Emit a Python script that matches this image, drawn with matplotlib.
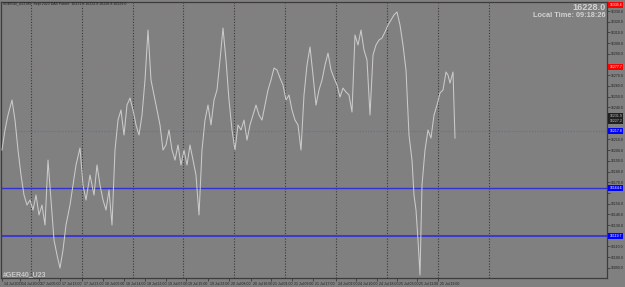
import matplotlib
matplotlib.use("Agg")
import matplotlib.pyplot as plt
from matplotlib.transforms import ScaledTranslation, blended_transform_factory

plt.rcParams["font.family"] = ["Liberation Sans", "DejaVu Sans"]

# ---- data -------------------------------------------------------------
bar_index = [0, 3, 6, 10, 13, 16, 19, 22, 25, 28, 31, 34, 37, 40, 43, 46, 49, 52, 55, 58, 61, 64,
             68, 71, 74, 78, 81, 84, 88, 92, 95, 98, 101, 104, 107, 110,
             113, 116, 119, 122, 125, 128, 131, 134, 137, 140, 143, 146, 149, 152, 155, 158, 161,
             164, 167, 170, 173, 176, 179, 182, 185, 188, 191, 194, 197, 200, 203, 206, 209, 212,
             215, 218, 221, 224, 227, 230, 233, 236, 239, 242, 245, 248, 251, 254, 257, 260, 263,
             266, 269, 272, 275, 278, 281, 284, 287, 290, 293, 296, 299, 302, 305, 308, 311, 314,
             317, 320, 323, 326, 329, 332, 335, 338, 341, 344, 347, 350, 353, 356, 359, 362, 365,
             368, 371, 374, 377, 380, 383, 386, 389, 392, 395, 398, 401, 404, 407,
             410, 412, 414, 416, 418, 420, 423, 426, 429, 432, 435, 438, 441, 444, 446, 448, 451, 453]

price = [16200.1, 16218.8, 16232.8, 16246.8, 16228.1, 16200.1, 16176.7, 16158.0, 16148.7, 16153.4,
         16144.0, 16158.0, 16139.4, 16148.7, 16130.0, 16190.7, 16153.4, 16116.0, 16102.0, 16089.8,
         16106.7, 16130.0,
         16148.7, 16167.4, 16186.1, 16202.0, 16167.4, 16153.4, 16176.7, 16158.0, 16186.1, 16167.4,
         16153.4, 16144.0, 16162.7, 16130.0,
         16200.1, 16228.1, 16237.5, 16214.1, 16242.1, 16248.7, 16237.5, 16223.5, 16214.1, 16232.8,
         16265.5, 16312.2, 16265.5, 16251.5, 16237.5, 16223.5, 16200.1, 16204.8, 16218.8, 16200.1,
         16190.7, 16204.8, 16186.1, 16200.1, 16186.1, 16204.8, 16190.7, 16176.7, 16139.4, 16200.1,
         16228.1, 16242.1, 16223.5, 16246.8, 16256.2, 16284.2, 16314.1, 16284.2, 16246.8, 16218.8,
         16200.1, 16223.5, 16218.8, 16228.1, 16209.4, 16223.5, 16232.8, 16242.1, 16232.8, 16228.1,
         16242.1, 16256.2, 16265.5, 16276.7, 16274.9, 16267.4, 16260.8, 16246.8, 16251.5, 16237.5,
         16228.1, 16223.5, 16200.1, 16251.5, 16279.5, 16296.4, 16270.2, 16242.1, 16256.2, 16265.5,
         16279.5, 16290.7, 16274.9, 16267.4, 16260.8, 16249.6, 16258.0, 16254.3, 16251.5, 16235.6,
         16307.6, 16298.2, 16312.2, 16293.5, 16284.2, 16232.8, 16288.9, 16298.2, 16302.9, 16304.8,
         16310.4, 16316.9, 16321.6, 16326.3, 16329.1, 16316.9, 16298.2, 16274.9, 16214.1,
         16190.7, 16158.0, 16144.0, 16116.0, 16083.3, 16167.4, 16200.1, 16218.8, 16211.3, 16232.8,
         16242.1, 16253.4, 16256.2, 16273.0, 16270.2, 16262.7, 16273.0, 16211.3]

time_tick_pos = [0, 18, 37, 58, 80, 101, 122, 143, 164, 184, 206, 227, 249, 269, 290, 311, 334,
                 354, 375, 395, 415, 436]
time_tick_labels = ["14 Jul 2023", "14 Jul 20:00", "17 Jul 05:00", "17 Jul 13:00", "17 Jul 21:00",
                    "18 Jul 06:00", "18 Jul 14:00", "18 Jul 22:00", "19 Jul 07:00", "19 Jul 15:00",
                    "19 Jul 23:00", "20 Jul 08:00", "20 Jul 16:00", "21 Jul 01:00", "21 Jul 09:00",
                    "21 Jul 17:00", "24 Jul 02:00", "24 Jul 10:00", "24 Jul 18:00", "25 Jul 03:00",
                    "25 Jul 11:00", "25 Jul 19:00"]
grid_pos = [29, 80, 131, 181, 232, 283, 334, 385, 436, 487]

price_ticks = [16330, 16320, 16310, 16300, 16290, 16280, 16270, 16260, 16250, 16240, 16230,
               16220, 16210, 16200, 16190, 16180, 16170, 16160, 16150, 16140, 16130, 16120,
               16110, 16100, 16090]

ask_level = 16335.6
red_level = 16277.7
bid_levels = [16231.9, 16227.2]
blue_dotted_level = 16217.8
blue_solid_levels = [16164.6, 16119.7]

symbol = "#GER40_U23"
header = "#GER40_U23,M5  Sept 2023 DAX Future  16231.8 16232.8 16226.8 16229.0"
big_price = "16228.0"
local_time = "Local Time: 09:18:26"

# ---- style ------------------------------------------------------------
BG = "#808080"
LINE = "#cbcbcb"
FRAME = "#3c3c3c"
SMALL = 2.5

fig = plt.figure(figsize=(6.25, 2.87), dpi=100, facecolor=BG)
ax = fig.add_axes([1.5 / 625, 9 / 287, 605.5 / 625, 276.5 / 287])
ax.set_facecolor(BG)
ax.set_xlim(-0.5, 605)
ax.set_ylim(16080.5, 16338.9)

for s in ax.spines.values():
    s.set_color(FRAME)
    s.set_linewidth(0.9)

# vertical dotted grid
for g in grid_pos:
    ax.axvline(g, color="#3a3a3a", lw=0.8, ls=(0, (1, 1.5)), zorder=1)

# horizontal level lines
ax.axhline(ask_level, color="#c06868", lw=0.8, ls=(0, (1, 1.5)), zorder=1)
ax.axhline(red_level, color="#c06868", lw=0.8, ls=(0, (1, 1.5)), zorder=1)
ax.axhline(blue_dotted_level, color="#6464c8", lw=0.8, ls=(0, (1, 1.5)), zorder=1)
ax.axhline(blue_solid_levels[0], color="#3232d2", lw=1.0, zorder=1)
ax.axhline(blue_solid_levels[1], color="#3c3cc8", lw=1.5, zorder=1)

# price line
ax.plot(bar_index, price, color=LINE, lw=0.75, zorder=3)

# right axis (labels hidden where a price box covers them)
box_levels = [ask_level, red_level] + bid_levels + [blue_dotted_level] + blue_solid_levels
ax.yaxis.tick_right()
ax.set_yticks(price_ticks)
ax.set_yticklabels(["" if any(abs(p - b) < 4.7 for b in box_levels) else f"{p:.1f}"
                    for p in price_ticks])
ax.tick_params(axis="y", which="major", length=2, width=0.6, color=FRAME,
               labelsize=SMALL, labelcolor="#1e1e1e", pad=1)

# bottom axis
ax.set_xticks(time_tick_pos)
ax.set_xticklabels(time_tick_labels)
ax.tick_params(axis="x", which="major", length=2.5, width=0.6, color=FRAME,
               labelsize=SMALL, labelcolor="#1e1e1e", pad=0.5)
off = ScaledTranslation(2 / 100, 0, fig.dpi_scale_trans)
for lab in ax.get_xticklabels():
    lab.set_horizontalalignment("left")
    lab.set_transform(lab.get_transform() + off)

# right-side price boxes
tr = blended_transform_factory(ax.transAxes, ax.transData)
def box(level, fc, tc="white"):
    ax.text(1.004, level, f"{level:.1f}", transform=tr, fontsize=SMALL, color=tc,
            va="center", ha="left", clip_on=False, zorder=6,
            bbox=dict(boxstyle="square,pad=0.3", fc=fc, ec="none"))

box(ask_level, "#ff0000")
box(red_level, "#ff0000")
for b in bid_levels:
    box(b, "#202020", "#c8c8c8")
box(blue_dotted_level, "#0000ff")
for b in blue_solid_levels:
    box(b, "#0000ff")

# texts
fig.text(3 / 625, 1 - 4.5 / 287, header, fontsize=2.6, color="#1e1e1e", va="center", ha="left")
fig.text(606 / 625, 1 - 7 / 287, big_price, fontsize=6.6, fontweight="bold",
         color="#d2d2d2", va="center", ha="right")
fig.text(606 / 625, 1 - 15.5 / 287, local_time, fontsize=5.3, fontweight="bold",
         color="#d2d2d2", va="center", ha="right")
fig.text(3 / 625, 1 - 275 / 287, symbol, fontsize=5.0, fontweight="bold",
         color="#c8c8c8", va="center", ha="left")

fig.savefig("out.png", dpi=100, facecolor=BG)
